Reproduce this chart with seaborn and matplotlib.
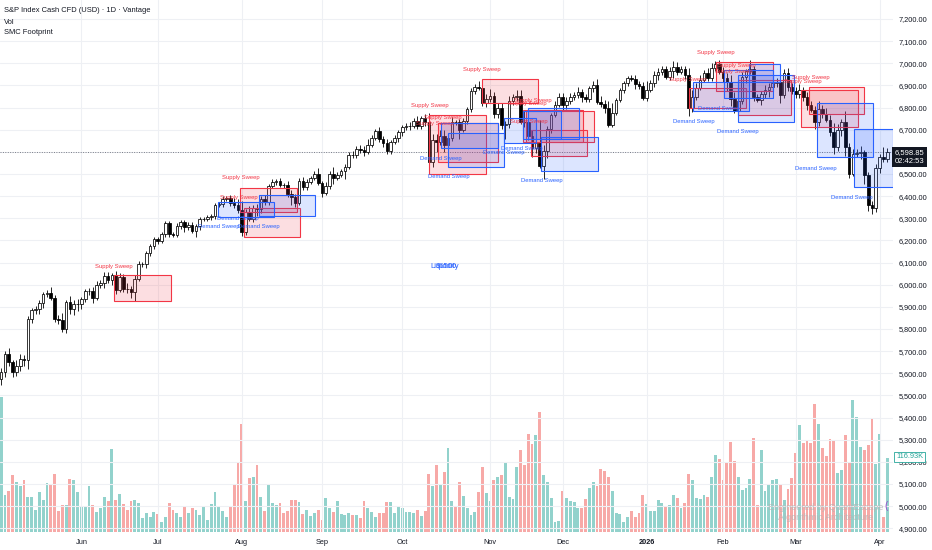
import numpy as np
import pandas as pd
import matplotlib
matplotlib.use("Agg")
import matplotlib.pyplot as plt
from matplotlib.patches import Rectangle
import seaborn as sns

# Daily closes, one list per month
close_may = [5604, 5687, 5650, 5607, 5631, 5664, 5660, 5844, 5886, 5892, 5916, 5958, 5964, 5940, 5845,
             5842, 5802, 5922, 5889, 5912, 5912]
close_jun = [5936, 5970, 5971, 5939, 6000, 6006, 6039, 6022, 6045, 5977, 6033, 5982, 5981, 5967, 6025,
             6092, 6092, 6141, 6173, 6205]
close_jul = [6198, 6227, 6279, 6230, 6226, 6263, 6281, 6260, 6269, 6244, 6264, 6297, 6297, 6306, 6309,
             6359, 6363, 6389, 6390, 6371, 6362, 6339]
close_aug = [6238, 6330, 6299, 6345, 6340, 6389, 6374, 6446, 6466, 6469, 6450, 6449, 6411, 6396, 6370,
             6467, 6440, 6466, 6481, 6502, 6460]
close_sep = [6416, 6448, 6502, 6482, 6495, 6513, 6532, 6588, 6584, 6615, 6607, 6600, 6632, 6664, 6694,
             6656, 6638, 6605, 6644, 6661, 6688]
close_oct = [6711, 6715, 6716, 6740, 6715, 6754, 6735, 6553, 6655, 6644, 6671, 6630, 6664, 6736, 6735,
             6699, 6738, 6792, 6875, 6891, 6890, 6822, 6840]
close_nov = [6852, 6771, 6796, 6720, 6728, 6832, 6846, 6851, 6737, 6734, 6672, 6617, 6642, 6538, 6603,
             6705, 6766, 6813, 6849]
close_dec = [6812, 6829, 6850, 6857, 6870, 6846, 6840, 6887, 6901, 6827, 6816, 6800, 6721, 6775, 6834,
             6878, 6909, 6932, 6930, 6905, 6896, 6845]
close_jan = [6880, 6910, 6945, 6960, 6975, 6940, 6965, 6985, 6960, 6975, 6945, 6800, 6850, 6890, 6925,
             6955, 6935, 6980, 6995, 6960]
close_feb = [6935, 6915, 6840, 6785, 6830, 6940, 6965, 6975, 6850, 6835, 6860, 6880, 6895, 6910, 6915,
             6855, 6955, 6895, 6875]
close_mar = [6860, 6880, 6850, 6810, 6790, 6735, 6795, 6770, 6745, 6690, 6620, 6700, 6735, 6620, 6500,
             6590, 6595, 6600, 6495, 6360, 6345, 6525]
close_apr = [6575, 6570, 6598.85]
first_open = 5575

# wick lengths above / below the body (points)
wick_hi = [20, 15, 25, 10, 30, 25, 20, 15, 10, 10, 15, 10, 10, 25, 15, 20, 30, 10, 25, 20, 25,
           10, 10, 15, 20, 15, 15, 20, 20, 10, 15, 20, 15, 25, 15, 20, 15, 10, 10, 10, 10,
           10, 10, 10, 10, 10, 15, 10, 10, 15, 15, 10, 10, 10, 10, 10, 10, 10, 10, 10, 15, 20, 25,
           40, 10, 25, 15, 20, 10, 15, 10, 10, 10, 15, 10, 20, 15, 15, 15, 20, 10, 10, 10, 25,
           10, 15, 10, 30, 15, 10, 15, 10, 15, 10, 15, 20, 25, 10, 10, 20, 15, 20, 10, 15, 10,
           10, 15, 20, 15, 20, 10, 15, 40, 25, 25, 30, 30, 10, 20, 10, 15, 15, 10, 15, 15, 30, 35, 20,
           30, 20, 25, 25, 10, 20, 15, 30, 30, 50, 20, 25, 40, 100, 30, 10, 10, 15, 15,
           15, 20, 15, 15, 25, 15, 15, 10, 20, 30, 25, 20, 30, 45, 10, 10, 10, 10, 15, 15, 15, 20,
           40, 15, 20, 20, 15, 15, 20, 25, 20, 15, 15, 35, 30, 20, 20, 15, 25, 20, 15, 20,
           25, 20, 30, 30, 20, 20, 10, 40, 15, 10, 15, 20, 15, 10, 20, 10, 20, 25, 15,
           20, 25, 15, 20, 20, 15, 35, 15, 30, 20, 40, 25, 15, 50, 20, 25, 20, 25, 10, 15, 20, 20,
           15, 45, 20]
wick_lo = [30, 20, 15, 25, 20, 20, 25, 40, 15, 20, 25, 20, 15, 10, 15, 20, 15, 20, 20, 25, 30,
           20, 15, 15, 20, 10, 15, 20, 15, 25, 20, 10, 15, 20, 25, 40, 10, 10, 15, 10, 10,
           15, 10, 10, 15, 10, 10, 10, 20, 15, 10, 30, 15, 10, 10, 15, 10, 10, 10, 10, 15, 15, 15,
           20, 15, 10, 15, 30, 15, 15, 15, 10, 15, 10, 10, 15, 35, 20, 10, 10, 10, 10, 10, 10,
           20, 10, 15, 25, 10, 10, 35, 10, 10, 10, 10, 20, 10, 10, 10, 10, 15, 15, 15, 10, 15,
           15, 10, 15, 10, 10, 10, 20, 10, 20, 45, 15, 30, 20, 15, 15, 40, 10, 10, 10, 15, 10, 15, 20,
           15, 20, 20, 15, 60, 20, 20, 15, 10, 20, 20, 40, 20, 10, 60, 30, 20, 10, 10,
           25, 20, 15, 15, 15, 20, 15, 15, 15, 10, 15, 25, 10, 10, 10, 10, 10, 10, 10, 20, 10, 10,
           15, 10, 15, 20, 15, 10, 15, 30, 15, 10, 15, 40, 20, 15, 10, 10, 15, 15, 15, 10,
           20, 40, 35, 10, 15, 15, 30, 15, 20, 10, 25, 15, 30, 15, 15, 35, 10, 20, 15,
           15, 15, 20, 20, 10, 30, 20, 15, 10, 20, 30, 15, 30, 40, 20, 10, 15, 25, 40, 25, 25, 15,
           20, 15, 15]

# volume in thousands
volume_k = [213, 58, 65, 90, 79, 73, 82, 55, 55, 35, 63, 51, 77, 74, 92, 33, 43, 43, 84, 82,
            63, 40, 40, 73, 43, 32, 38, 55, 49, 131, 51, 60, 44, 35, 49, 51, 46, 22, 30, 24,
            32, 28, 16, 24, 46, 35, 30, 24, 40, 30, 38, 35, 27, 40, 19, 44, 63, 41, 33, 24,
            41, 76, 109, 171, 49, 85, 87, 106, 55, 33, 74, 46, 43, 46, 30, 33, 51, 51, 47, 28,
            35, 25, 30, 35, 19, 54, 38, 32, 49, 28, 27, 30, 27, 27, 22, 49, 38, 32, 24, 30,
            30, 47, 47, 30, 41, 38, 32, 32, 30, 35, 25, 33, 92, 73, 106, 74, 95, 133, 49, 41,
            79, 57, 38, 27, 32, 63, 103, 62, 49, 82, 87, 90, 109, 55, 52, 103, 130, 106, 155, 139,
            153, 190, 90, 79, 54, 16, 17, 65, 54, 49, 47, 38, 38, 52, 70, 79, 73, 100, 96, 87,
            65, 30, 28, 16, 24, 33, 24, 30, 58, 44, 33, 33, 51, 46, 41, 43, 58, 54, 38, 46,
            92, 82, 54, 52, 58, 55, 87, 122, 115, 82, 109, 142, 112, 87, 66, 70, 84, 149, 43, 130,
            65, 74, 82, 84, 74, 51, 68, 85, 125, 169, 141, 144, 141, 202, 171, 133, 120, 147, 144, 93,
            98, 153, 109, 209, 182, 134, 130, 137, 180, 107, 155, 24, 116.93]

holidays = ["2025-05-26", "2025-06-19", "2025-07-04", "2025-09-01", "2025-11-27", "2025-12-25",
            "2026-01-01", "2026-01-19", "2026-02-16", "2026-04-03"]

# SMC zones: (bar from, bar to, low, high)
supply_boxes = [(29.6, 44.5, 5927, 6044), (62.6, 77.5, 6328, 6437), (63.6, 78.3, 6215, 6346),
                (112.0, 127.0, 6499, 6766), (114.4, 130.1, 6554, 6730), (125.9, 140.6, 6821, 6929),
                (136.6, 152.4, 6644, 6789), (137.4, 155.2, 6644, 6785), (138.7, 153.4, 6581, 6700),
                (180.1, 195.0, 6797, 6888), (187.2, 202.1, 6873, 7006), (192.9, 206.8, 6766, 6925),
                (209.4, 224.3, 6713, 6880), (211.5, 225.9, 6771, 6893)]
demand_boxes = [(56.8, 71.5, 6306, 6373), (67.5, 82.2, 6310, 6405), (115.2, 130.1, 6617, 6730),
                (117.0, 131.7, 6532, 6685), (131.7, 140.1, 6640, 6753), (136.6, 146.6, 6658, 6785),
                (138.0, 151.3, 6658, 6798), (141.4, 156.3, 6514, 6667), (181.2, 195.8, 6785, 6915),
                (189.3, 202.1, 6843, 6970), (192.9, 207.6, 6735, 6947), (195.8, 204.0, 6916, 6997),
                (213.6, 228.3, 6577, 6820), (223.3, 233.5, 6443, 6703)]
supply_labels = [(29.6, 6084), (62.8, 6482), (62.3, 6392), (112.3, 6811), (115.7, 6757), (113.6, 6730),
                 (125.9, 6974), (139.3, 6834), (138.0, 6820), (138.2, 6739), (187.2, 7051), (179.8, 6929),
                 (192.7, 6992), (191.9, 6961), (212.0, 6938), (210.0, 6920)]
demand_labels = [(62.0, 6297), (57.1, 6261), (67.5, 6261), (115.2, 6568), (117.3, 6487), (131.7, 6595),
                 (136.4, 6613), (141.6, 6469), (188.0, 6798), (181.4, 6739), (192.9, 6690), (213.4, 6527),
                 (222.8, 6392)]

title = "S&P Index Cash CFD (USD) · 1D · Vantage"
countdown = "02:42:53"

# ---- build frame ----
closes = np.array(close_may + close_jun + close_jul + close_aug + close_sep + close_oct + close_nov
                  + close_dec + close_jan + close_feb + close_mar + close_apr, dtype=float)
n = len(closes)
dates = pd.bdate_range("2025-05-01", periods=n, freq="C", holidays=holidays)
opens = np.r_[first_open, closes[:-1]]
highs = np.maximum(opens, closes) + np.array(wick_hi[:n], dtype=float)
lows = np.minimum(opens, closes) - np.array(wick_lo[:n], dtype=float)
idx = np.arange(n)
up = closes >= opens

df = pd.DataFrame({"i": idx, "vol": volume_k[:n], "side": np.where(up, "up", "down")})

sns.set_theme(style="white")
plt.rcParams["font.family"] = ["Liberation Sans", "DejaVu Sans"]

W, H = 932, 550
fx = lambda px: px / W
fy = lambda py: 1 - py / H

fig = plt.figure(figsize=(W / 100, H / 100), dpi=100)
pos = [0, fy(532), fx(893), 532 / H]
ax = fig.add_axes(pos)
axv = fig.add_axes(pos, sharex=ax)
axv.set_zorder(0)
ax.set_zorder(1)
ax.patch.set_visible(False)

# volume
sns.barplot(data=df, x="i", y="vol", hue="side", palette={"up": "#92d2cc", "down": "#f7a9a7"},
            native_scale=True, dodge=False, width=0.75, errorbar=None, saturation=1,
            legend=False, linewidth=0, ax=axv)
axv.set_ylim(0, 840.6)
axv.axis("off")

# candles
ax.vlines(idx, lows, highs, color="black", lw=0.6, zorder=2)
body_lo = np.minimum(opens, closes)
body_h = np.maximum(np.abs(closes - opens), 1.5)
ax.bar(idx[up], body_h[up], bottom=body_lo[up], width=0.7, color="white",
       edgecolor="black", linewidth=0.55, zorder=3)
ax.bar(idx[~up], body_h[~up], bottom=body_lo[~up], width=0.7, color="black",
       edgecolor="black", linewidth=0.55, zorder=3)

# zones
for x0, x1, lo, hi in supply_boxes:
    ax.add_patch(Rectangle((x0, lo), x1 - x0, hi - lo, fc=(0.95, 0.21, 0.27, 0.16),
                           ec="#f23645", lw=0.8, zorder=4))
for x0, x1, lo, hi in demand_boxes:
    ax.add_patch(Rectangle((x0, lo), x1 - x0, hi - lo, fc=(0.16, 0.38, 1.0, 0.16),
                           ec="#2962ff", lw=0.8, zorder=4))
for x, y in supply_labels:
    ax.text(x, y, "Supply Sweep", color="#f23645", fontsize=4.2, ha="center", va="center", zorder=6)
for x, y in demand_labels:
    ax.text(x, y, "Demand Sweep", color="#2962ff", fontsize=4.2, ha="center", va="center", zorder=6)
ax.text(116, 6084, "Liquidity", color="#2962ff", fontsize=5.5, ha="center", va="center", zorder=6)
ax.text(116.5, 6084, "$6500", color="#2962ff", fontsize=5.5, ha="center", va="center", zorder=6)

ax.axhline(closes[-1], color="#787b86", lw=0.7, ls=(0, (1, 1.5)), zorder=1)

# axes
ax.set_ylim(4883, 7286)
ax.set_xlim(-0.3, 233.5)
yt = np.arange(4900, 7201, 100)
ax.set_yticks(yt)
# the last-price tag sits on top of the 6,600 label
ax.set_yticklabels(["" if v == 6600 else f"{v:,.2f}" for v in yt])
ax.yaxis.tick_right()
ax.tick_params(axis="y", length=0, pad=4, labelsize=5.3, labelcolor="#131722")

month_starts = [i for i in range(1, n) if dates[i].month != dates[i - 1].month]
month_names = ["2026" if dates[i].month == 1 else dates[i].strftime("%b") for i in month_starts]
ax.set_xticks(month_starts)
ax.set_xticklabels(month_names)
ax.tick_params(axis="x", length=0, pad=5, labelsize=5.3, labelcolor="#131722")
for t in ax.get_xticklabels():
    if t.get_text() == "2026":
        t.set_fontweight("bold")
ax.grid(True, color="#eef0f4", lw=0.8)
ax.set_axisbelow(True)
for s in ax.spines.values():
    s.set_visible(False)
ax.set_xlabel("")
ax.set_ylabel("")

# header and price labels
fig.text(fx(4), fy(11), title, fontsize=5.4, color="#131722", va="center")
fig.text(fx(4), fy(22), "Vol", fontsize=5.4, color="#131722", va="center")
fig.text(fx(4), fy(33), "SMC Footprint", fontsize=5.4, color="#131722", va="center")
fig.text(fx(895), fy(157), f"{closes[-1]:,.2f}\n{countdown}", color="white", fontsize=5.5,
         va="center", ha="left", linespacing=1.3,
         bbox=dict(boxstyle="square,pad=0.35", fc="#131722", ec="none"))
fig.text(fx(896), fy(457), f"{volume_k[-1]:.2f}K", color="#26a69a", fontsize=5.3, va="center",
         bbox=dict(boxstyle="square,pad=0.25", fc="white", ec="#26a69a", lw=0.6))
fig.text(fx(826), fy(507), "Engineered by QuantEscape", color="#b5b5b5", alpha=0.8,
         fontsize=6.5, ha="center", va="center")
fig.text(fx(826), fy(517), "Algorithmic Architecture", color="#b5b5b5", alpha=0.8,
         fontsize=6.5, ha="center", va="center")
fig.text(fx(886), fy(506), "(", color="#9c4dcc", fontsize=7, ha="center", va="center")

fig.savefig("out.png", dpi=100)
